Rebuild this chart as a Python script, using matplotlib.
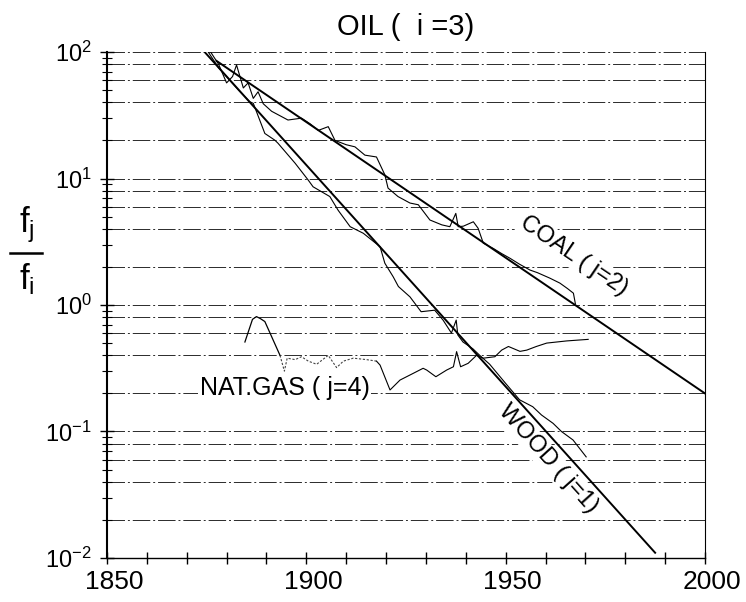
import numpy as np
import matplotlib
matplotlib.use("Agg")
import matplotlib.pyplot as plt
import matplotlib.transforms as mtransforms
from matplotlib import font_manager
from matplotlib.lines import Line2D
from matplotlib.ticker import FixedLocator, NullFormatter

# fitted substitution lines (end points)
coal_fit_years = [1877.5, 2000]
coal_fit_vals = [85, 0.2]
wood_fit_years = [1874.5, 1987.5]
wood_fit_vals = [100, 0.011]

# coal / oil, historical
coal_years = [1876.0, 1878.0, 1880.0, 1881.5, 1882.5, 1884.2, 1885.4, 1886.7, 1887.9, 1889.2,
              1891.3, 1895.4, 1898.8, 1901.0, 1903.0, 1905.5, 1907.2, 1910.0, 1912.2, 1914.7,
              1917.6, 1919.7, 1920.5, 1923.0, 1926.0, 1928.1, 1931.0, 1934.0, 1936.0, 1937.5,
              1938.1, 1939.4, 1941.9, 1943.1, 1944.4, 1946.9, 1949.0, 1951.1, 1953.5, 1956.1,
              1958.0, 1961.1, 1963.6, 1965.5, 1967.0, 1967.5]
coal_vals = [100, 80, 57, 64, 79, 52, 57, 43, 48.5, 39,
             34, 29, 30, 27, 24, 25.7, 20, 18.5, 17.8, 15.3,
             14.8, 10.7, 8.4, 7.2, 6.4, 6.2, 4.7, 4.3, 4.16, 5.3,
             4.16, 4.2, 4.55, 4.04, 3.08, 2.8, 2.55, 2.34, 2.1, 1.89,
             1.8, 1.63, 1.49, 1.35, 1.24, 1.02]

# wood / oil, historical
wood_years = [1875.4, 1878.0, 1883.0, 1885.8, 1886.7, 1889.6, 1892.1, 1892.9, 1897.2, 1900.5,
              1901.7, 1905.9, 1908.0, 1911.0, 1914.3, 1918.5, 1919.7, 1921.8, 1923.1, 1926.0,
              1928.8, 1932.2, 1934.3, 1936.4, 1937.6, 1938.0, 1939.3, 1941.8, 1943.5, 1946.0,
              1950.0, 1953.5, 1956.8, 1959.0, 1961.9, 1964.0, 1966.9, 1970.2]
wood_vals = [100, 75, 50, 40.5, 39.3, 22.7, 20.1, 19, 13.2, 9.7,
             8.6, 7.2, 5.6, 4.16, 3.69, 2.89, 2.14, 1.67, 1.40, 1.16,
             0.885, 0.91, 0.76, 0.60, 0.76, 0.58, 0.51, 0.45, 0.40, 0.34,
             0.24, 0.178, 0.157, 0.135, 0.116, 0.100, 0.0857, 0.063]

# natural gas / oil, historical (middle stretch drawn dotted)
gas_years_a = [1884.6, 1885.5, 1886.5, 1887.5, 1888.5, 1889.6, 1890.9, 1893.4]
gas_vals_a = [0.51, 0.62, 0.77, 0.81, 0.78, 0.74, 0.60, 0.40]
gas_years_b = [1893.4, 1894.5, 1895.2, 1897.2, 1898.8, 1900.5, 1902.6, 1905.5, 1907.6, 1909.3,
               1911.8, 1915.1, 1917.6]
gas_vals_b = [0.40, 0.30, 0.38, 0.37, 0.39, 0.36, 0.34, 0.40, 0.32, 0.36,
              0.38, 0.37, 0.36]
gas_years_c = [1917.6, 1918.5, 1921.0, 1923.5, 1926.8, 1929.3, 1930.2, 1932.5, 1935.2, 1936.9,
               1937.7, 1938.7, 1940.6, 1942.7, 1944.4, 1947.3, 1949.0, 1950.7, 1953.6, 1955.3,
               1957.7, 1960.3, 1965.3, 1970.7]
gas_vals_c = [0.36, 0.335, 0.213, 0.255, 0.288, 0.316, 0.306, 0.271, 0.306, 0.325,
              0.428, 0.325, 0.346, 0.40, 0.38, 0.39, 0.44, 0.47, 0.43, 0.44,
              0.47, 0.50, 0.52, 0.535]

grid_vals = [0.02, 0.04, 0.06, 0.08, 0.1, 0.2, 0.4, 0.6, 0.8, 1,
             2, 4, 6, 8, 10, 20, 40, 60, 80, 100]
x_ticks = list(range(1850, 2001, 10))
x_labels = ["1850", "1900", "1950", "2000"]
y_decades = [0.01, 0.1, 1, 10, 100]
y_labels = [r"$10^{-2}$", r"$10^{-1}$", r"$10^{0}$", r"$10^{1}$", r"$10^{2}$"]

names = {f.name for f in font_manager.fontManager.ttflist}
narrow = "Liberation Sans Narrow" if "Liberation Sans Narrow" in names else "Liberation Sans"
plt.rcParams["font.family"] = [narrow, "DejaVu Sans"]
plt.rcParams["mathtext.fontset"] = "custom"
plt.rcParams["mathtext.rm"] = narrow
plt.rcParams["mathtext.it"] = narrow
plt.rcParams["mathtext.default"] = "regular"

fig = plt.figure(figsize=(7.46, 6.02), dpi=100)
ax = fig.add_axes([0.1434, 0.0731, 0.8016, 0.8405])
ax.set_yscale("log")
ax.set_xlim(1850, 2000)
ax.set_ylim(0.01, 100)

for v in grid_vals:
    ax.axhline(v, color="#2a2a2a", lw=0.7, ls=(0, (18, 3, 2, 3)), zorder=1)

ax.plot(coal_fit_years, coal_fit_vals, color="black", lw=1.4, zorder=3)
ax.plot(wood_fit_years, wood_fit_vals, color="black", lw=1.4, zorder=3)
ax.plot(coal_years, coal_vals, color="black", lw=0.8, zorder=3)
ax.plot(wood_years, wood_vals, color="black", lw=0.8, zorder=3)
ax.plot(gas_years_a, gas_vals_a, color="black", lw=0.9, zorder=3)
ax.plot(gas_years_b, gas_vals_b, color="#444444", lw=0.8, ls=(0, (2, 1.5)), zorder=3)
ax.plot(gas_years_c, gas_vals_c, color="black", lw=0.8, zorder=3)

box = dict(facecolor="white", edgecolor="none", pad=1)
ax.text(1967.1, 2.44, "COAL ( j=2)", rotation=-34, ha="center", va="center",
        rotation_mode="anchor", fontsize=17, bbox=box, zorder=4)
ax.text(1960.6, 0.0606, "WOOD ( j=1)", rotation=-48, ha="center", va="center",
        rotation_mode="anchor", fontsize=17, bbox=box, zorder=4)
ax.text(1894.6, 0.221, "NAT.GAS ( j=4)", ha="center", va="center",
        fontsize=18, bbox=box, zorder=4)

ax.set_title("OIL (  i =3)", fontsize=21, pad=12)

ax.spines["top"].set_visible(False)
ax.spines["left"].set_linewidth(1.5)
ax.spines["bottom"].set_linewidth(1.0)
ax.spines["right"].set_linewidth(0.8)

ax.xaxis.set_ticks_position("bottom")
ax.yaxis.set_ticks_position("left")
ax.set_xticks(x_ticks)
ax.set_xticklabels([str(t) if str(t) in x_labels else "" for t in x_ticks])
ax.tick_params(axis="x", direction="inout", length=9, width=1, labelsize=19, pad=4)
shift = mtransforms.ScaledTranslation(7 / 100, 0, fig.dpi_scale_trans)
for lab in ax.get_xticklabels():
    lab.set_transform(lab.get_transform() + shift)

ax.yaxis.set_major_locator(FixedLocator(y_decades))
ax.set_yticklabels(y_labels)
minor = [m * d for d in y_decades[:-1] for m in range(2, 10)]
ax.yaxis.set_minor_locator(FixedLocator(minor))
ax.yaxis.set_minor_formatter(NullFormatter())
ax.tick_params(axis="y", which="major", direction="inout", length=10, width=1,
               labelsize=17, pad=6)
ax.tick_params(axis="y", which="minor", direction="inout", length=7, width=0.8)

# f_j / f_i written as a fraction on the left
fig.text(27 / 746, 1 - 232 / 602, r"$f_j$", ha="center", va="baseline", fontsize=25)
fig.text(27 / 746, 1 - 289 / 602, r"$f_i$", ha="center", va="baseline", fontsize=25)
fig.add_artist(Line2D([10 / 746, 42 / 746], [1 - 253 / 602, 1 - 253 / 602],
                      color="black", lw=1.8))

fig.savefig("out.png", dpi=100)
